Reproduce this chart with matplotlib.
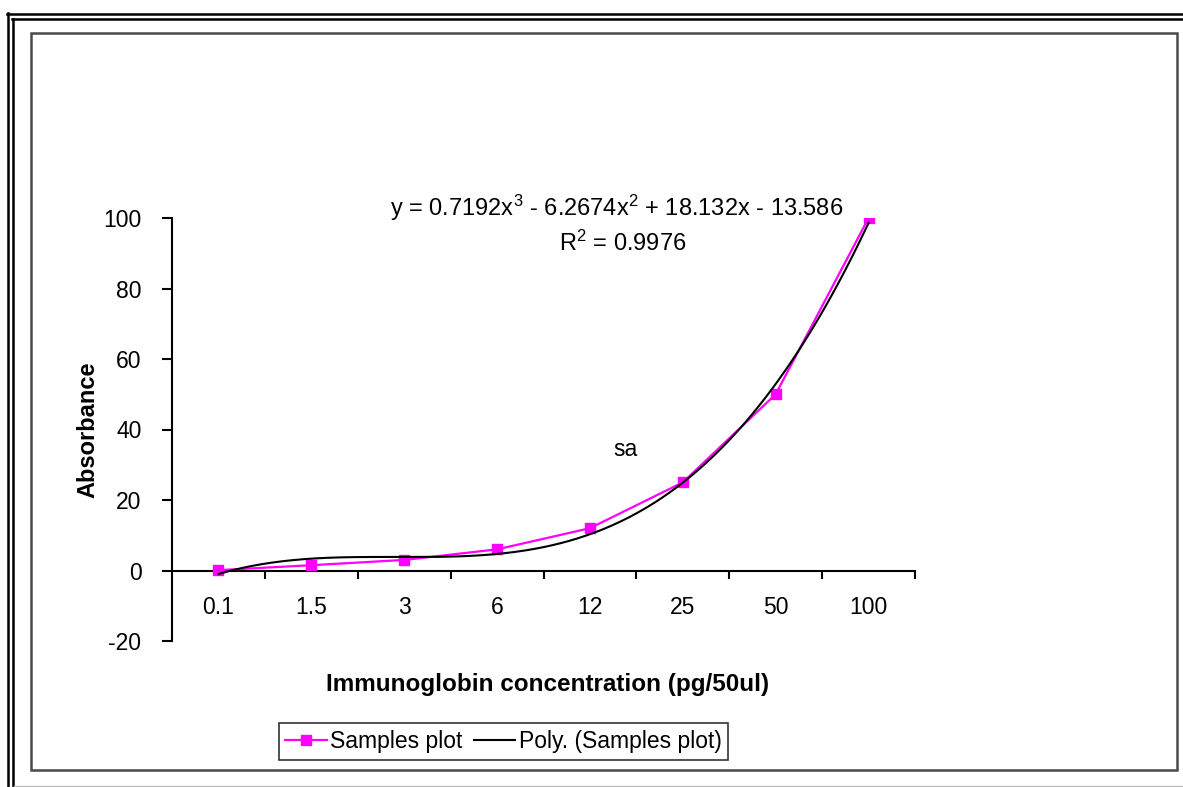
import numpy as np
import matplotlib
matplotlib.use("Agg")
import matplotlib.pyplot as plt
from matplotlib.lines import Line2D
from matplotlib.patches import Rectangle

plt.rcParams['font.family'] = ['Liberation Sans', 'DejaVu Sans']
plt.rcParams['mathtext.fontset'] = 'custom'
plt.rcParams['mathtext.rm'] = 'Liberation Sans'
plt.rcParams['mathtext.it'] = 'Liberation Sans'
plt.rcParams['axes.unicode_minus'] = False

# Concentrations (categories) and measured absorbance
concentrations = ["0.1", "1.5", "3", "6", "12", "25", "50", "100"]
absorbance = [0.1, 1.5, 3, 6, 12, 25, 50, 100]

# Cubic trendline coefficients (highest power first) and fit quality
poly_coeffs = [0.7192, -6.2674, 18.132, -13.586]
r_squared = 0.9976

W, H = 1183, 787
fig = plt.figure(figsize=(W / 100, H / 100), dpi=100)
fig.patch.set_facecolor('white')

FS = 16.5


def fx(px):
    return px / W


def fy(py):
    return 1 - py / H


ax = fig.add_axes([fx(172), fy(641), fx(915) - fx(172), fy(218) - fy(641)])
ax.set_facecolor('none')

xpos = np.arange(1, len(concentrations) + 1)
ax.plot(xpos, absorbance, color='#FF00FF', lw=1.6, marker='s', ms=7.5,
        mec='#FF00FF', mfc='#FF00FF', zorder=3, label='Samples plot')

xs = np.linspace(1, len(concentrations), 300)
ax.plot(xs, np.polyval(poly_coeffs, xs), color='black', lw=1.5, zorder=4,
        label='Poly. (Samples plot)')

ax.set_xlim(0.5, len(concentrations) + 0.5)
ax.set_ylim(-20, 100)

for side in ('top', 'right'):
    ax.spines[side].set_visible(False)
ax.spines['bottom'].set_position(('data', 0))
ax.spines['left'].set_linewidth(1.5)
ax.spines['bottom'].set_linewidth(1.5)

# Category boundaries carry the tick marks, centers carry the labels
ax.set_xticks(np.arange(1.5, len(concentrations) + 1, 1.0))
ax.set_xticklabels([])
ax.set_xticks(xpos, minor=True)
ax.set_xticklabels(concentrations, minor=True)
ax.tick_params(axis='x', which='major', direction='out', length=6, width=1.5)
ax.tick_params(axis='x', which='minor', length=0, pad=18, labelsize=FS)

ax.set_yticks(np.arange(-20, 101, 20))
ax.tick_params(axis='y', direction='out', length=7, width=1.5, pad=15,
               labelsize=FS)

fig.text(fx(88), fy(430), 'Absorbance', rotation=90, ha='center',
         va='center', fontsize=17, fontweight='bold')
fig.text(fx(548), fy(685), 'Immunoglobin concentration (pg/50ul)',
         ha='center', va='center', fontsize=17.5, fontweight='bold')

eq = ('y = %.4fx$^{3}$ - %.4fx$^{2}$ + %.3fx - %.3f'
      % (poly_coeffs[0], -poly_coeffs[1], poly_coeffs[2], -poly_coeffs[3]))
ax.text(5.29, 102.8, eq, ha='center', va='center', fontsize=17)
ax.text(5.35, 92.9, 'R$^{2}$ = %.4f' % r_squared, ha='center', va='center',
        fontsize=17)
ax.text(5.38, 34.3, 'sa', ha='center', va='center', fontsize=FS)

leg = fig.legend(loc='center', bbox_to_anchor=(fx(503.5), fy(741.5)), ncol=2,
                 fontsize=FS, frameon=True, fancybox=False, edgecolor='black',
                 handlelength=1.8, handletextpad=0.15, columnspacing=0.5,
                 borderpad=0.3, borderaxespad=0)
leg.get_frame().set_linewidth(1.2)

# Outer double frame
for px, ptop in ((7.5, 13), (12.5, 18.5)):
    fig.add_artist(Line2D([fx(px), fx(px)], [fy(ptop), 0],
                          transform=fig.transFigure, color='black', lw=1.8))
for py, pleft in ((13.5, 7), (19, 12)):
    fig.add_artist(Line2D([fx(pleft), 1], [fy(py), fy(py)],
                          transform=fig.transFigure, color='black', lw=1.8))

# Chart area frame
fig.add_artist(Rectangle((fx(31), fy(770)), fx(1177) - fx(31), fy(33) - fy(770),
                         transform=fig.transFigure, fill=False,
                         edgecolor='#4a4a4a', lw=1.8))
fig.add_artist(Line2D([fx(14), 1], [fy(786), fy(786)],
                      transform=fig.transFigure, color='#bdbdbd', lw=1.0))

fig.savefig('out.png', dpi=100)
